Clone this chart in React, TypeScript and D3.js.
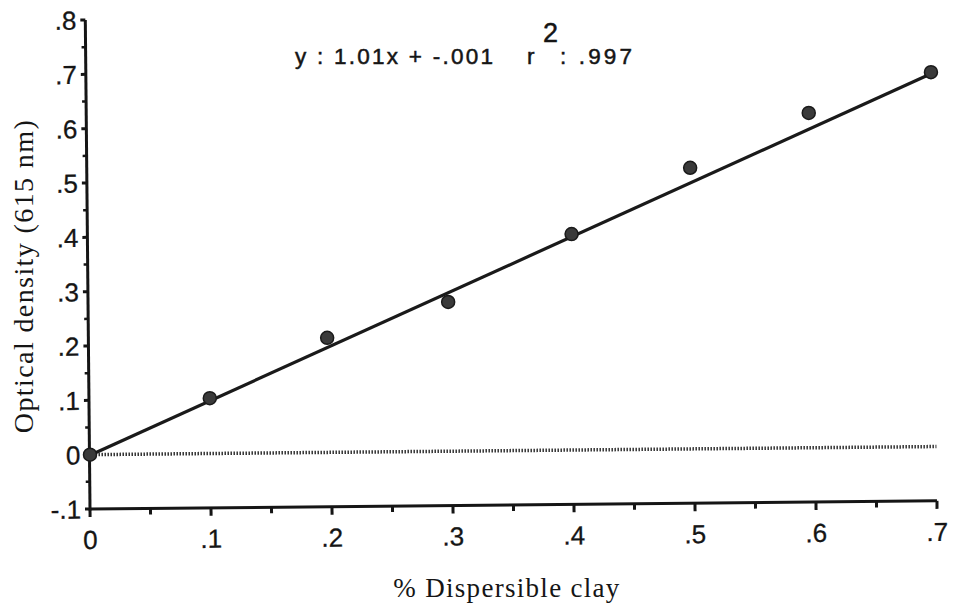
import React from 'react'
import * as d3 from 'd3'

// % dispersible clay vs optical density (615 nm)
const clay = [0, 0.099, 0.196, 0.296, 0.398, 0.496, 0.594, 0.695]
const density = [0, 0.104, 0.215, 0.281, 0.406, 0.528, 0.629, 0.704]
const blankX = [0, 0.7]
const blankY = [0, 0]
const slope = 1.01
const intercept = -0.001

const xTicks = [0, 0.1, 0.2, 0.3, 0.4, 0.5, 0.6, 0.7]
const xTickLabels = ['0', '.1', '.2', '.3', '.4', '.5', '.6', '.7']
const yTicks = [-0.1, 0, 0.1, 0.2, 0.3, 0.4, 0.5, 0.6, 0.7, 0.8]
const yTickLabels = ['-.1', '0', '.1', '.2', '.3', '.4', '.5', '.6', '.7', '.8']

export default function App() {
  const W = 955, H = 613
  const x = d3.scaleLinear().domain([0, 0.7]).range([90, 937])
  const y = d3.scaleLinear().domain([-0.1, 0.8]).range([509, 20])

  const fit = d3.line<number>().x(d => x(d)).y(d => y(slope * d + intercept))
  const blankLine = d3.line<number>().x((d, i) => x(blankX[i])).y(d => y(d))

  const xMinor = d3.range(0.05, 0.7, 0.1)
  const yMinor = d3.range(-0.05, 0.8, 0.1)

  const sans = '"Liberation Sans", Arial, sans-serif'
  const serif = '"Liberation Serif", "Times New Roman", serif'
  const ink = '#151515'

  return (
    <svg width={W} height={H} style={{ position: 'absolute', left: 0, top: 0, background: '#fff' }}>
      {/* the scanned frame is slightly tilted */}
      <g transform={`rotate(-0.55, ${x(0)}, ${y(-0.1)})`}>
        <line x1={x(0)} x2={x(0.7)} y1={y(-0.1)} y2={y(-0.1)} stroke={ink} strokeWidth={3} />
        <line x1={x(0)} x2={x(0)} y1={y(-0.1) + 1.5} y2={y(0.8)} stroke={ink} strokeWidth={3} />

        {xTicks.map(t => (
          <line key={'xt' + t} x1={x(t)} x2={x(t)} y1={y(-0.1)} y2={y(-0.1) + 8} stroke={ink} strokeWidth={3} />
        ))}
        {xMinor.map(t => (
          <line key={'xm' + t} x1={x(t)} x2={x(t)} y1={y(-0.1)} y2={y(-0.1) + 6} stroke={ink} strokeWidth={3} />
        ))}
        {yTicks.map(t => (
          <line key={'yt' + t} x1={x(0) - 5} x2={x(0)} y1={y(t)} y2={y(t)} stroke={ink} strokeWidth={3} />
        ))}
        {yMinor.map(t => (
          <line key={'ym' + t} x1={x(0) - 4} x2={x(0)} y1={y(t)} y2={y(t)} stroke={ink} strokeWidth={2.5} />
        ))}

        {xTicks.map((t, i) => (
          <text key={'xl' + t} x={x(t)} y={y(-0.1) + 40} textAnchor="middle" fontFamily={sans} fontSize={26}
            fill={ink} stroke={ink} strokeWidth={0.3}>
            {xTickLabels[i]}
          </text>
        ))}
        {yTicks.map((t, i) => (
          <text key={'yl' + t} x={x(0) - 9} y={y(t) + 9.5} textAnchor="end" fontFamily={sans} fontSize={26}
            fill={ink} stroke={ink} strokeWidth={0.3}>
            {yTickLabels[i]}
          </text>
        ))}

        {/* zero / blank line */}
        <path d={blankLine(blankY) || ''} fill="none" stroke="#333" strokeWidth={3.5} strokeDasharray="1.5 1.5" />
      </g>

      {/* regression line */}
      <path d={fit([0, 0.7]) || ''} fill="none" stroke="#1a1a1a" strokeWidth={3.2} />

      {clay.map((c, i) => (
        <circle key={'p' + i} cx={x(c)} cy={y(density[i])} r={6.5} fill="#3a3a3a" stroke="#1a1a1a" strokeWidth={1.5} />
      ))}

      <g fontFamily={sans} fill={ink} stroke={ink} strokeWidth={0.5}>
        <text x={295} y={64} fontSize={22.5} textLength={198} lengthAdjust="spacing">
          y : 1.01x + -.001
        </text>
        <text x={527} y={64} fontSize={22.5}>r</text>
        <text x={543} y={42} fontSize={27}>2</text>
        <text x={560} y={64} fontSize={22.5} textLength={72} lengthAdjust="spacing">: .997</text>
      </g>

      <text transform={`translate(33, 276) rotate(-90)`} textAnchor="middle" fontFamily={serif} fontSize={28} letterSpacing={1.4} fill={ink}>
        Optical density (615 nm)
      </text>
      <text x={507} y={597} textAnchor="middle" fontFamily={serif} fontSize={27} letterSpacing={1.3} fill={ink}>
        % Dispersible clay
      </text>
    </svg>
  )
}
